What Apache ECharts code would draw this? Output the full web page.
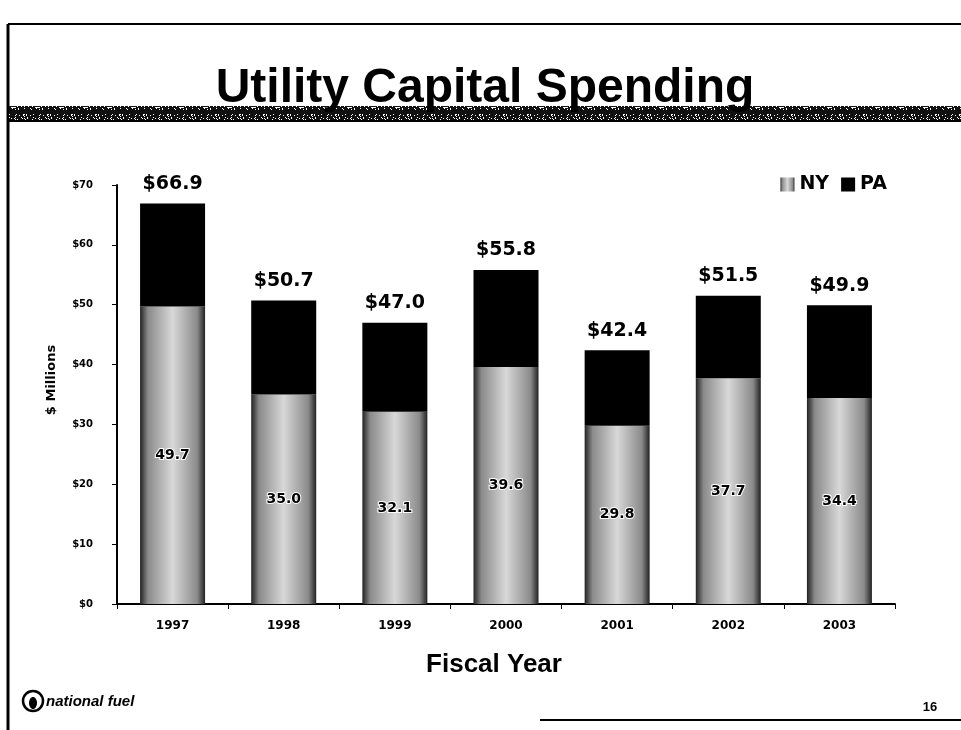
<!DOCTYPE html>
<html>
<head>
<meta charset="utf-8">
<title>Utility Capital Spending</title>
<script src="https://cdn.jsdelivr.net/npm/echarts@6/dist/echarts.min.js"></script>
<style>
  html, body { margin: 0; padding: 0; background: #fff; }
  #chart { width: 961px; height: 730px; }
</style>
</head>
<body>
<div id="chart"></div>
<script>
// fiscal years, $ millions
const years = ['1997', '1998', '1999', '2000', '2001', '2002', '2003']
const nyValues = [49.7, 35.0, 32.1, 39.6, 29.8, 37.7, 34.4]
const paValues = [17.2, 15.7, 14.9, 16.2, 12.6, 13.8, 15.5]
const totals = [66.9, 50.7, 47.0, 55.8, 42.4, 51.5, 49.9]
const yTicks = [0, 10, 20, 30, 40, 50, 60, 70]

const bold = '"DejaVu Sans", sans-serif'
const arial = '"Liberation Sans", Arial, sans-serif'

// speckled band under the title (fixed pattern, no randomness)
const makeBandPattern = () => {
  const c = document.createElement('canvas')
  c.width = 24
  c.height = 14
  const ctx = c.getContext('2d')
  ctx.fillStyle = '#111'
  ctx.fillRect(0, 0, 24, 14)
  ctx.fillStyle = '#fff'
  for (let x = 0; x < 24; x++) {
    for (let y = 2; y < 12; y++) {
      if ((x * 7 + y * 3 + (x * y) % 5) % 6 === 0) ctx.fillRect(x, y, 1, 1)
    }
  }
  return c
}

// NY bars: stippled grey, darker at the edges
const nyFill = new echarts.graphic.LinearGradient(0, 0, 1, 0, [
  { offset: 0, color: '#222' },
  { offset: 0.12, color: '#8a8a8a' },
  { offset: 0.5, color: '#d8d8d8' },
  { offset: 0.88, color: '#8a8a8a' },
  { offset: 1, color: '#222' },
])

const chart = echarts.init(document.getElementById('chart'))
chart.setOption({
  animation: false,
  backgroundColor: '#fff',
  grid: { left: 117, right: 66, top: 185, bottom: 126 },
  legend: {
    data: ['NY', 'PA'],
    right: 69,
    top: 170,
    itemWidth: 14,
    itemHeight: 14,
    itemGap: 12,
    icon: 'rect',
    textStyle: { color: '#000', fontSize: 19, fontWeight: 'bold', fontFamily: bold },
  },
  xAxis: {
    type: 'category',
    data: years,
    axisLine: { lineStyle: { color: '#000', width: 2 } },
    axisTick: { show: true, length: 5, lineStyle: { color: '#000' } },
    axisLabel: { color: '#000', fontSize: 12, fontWeight: 'bold', fontFamily: bold, margin: 16 },
  },
  yAxis: {
    type: 'value',
    min: yTicks[0],
    max: yTicks[yTicks.length - 1],
    interval: yTicks[1] - yTicks[0],
    axisLine: { show: true, lineStyle: { color: '#000', width: 2 } },
    axisTick: { show: true, length: 5, lineStyle: { color: '#000' } },
    splitLine: { show: false },
    axisLabel: {
      color: '#000', fontSize: 10, fontWeight: 'bold', fontFamily: bold, margin: 24,
      formatter: v => '$' + v,
    },
  },
  series: [
    {
      name: 'NY',
      type: 'bar',
      stack: 'total',
      barWidth: 65,
      itemStyle: { color: nyFill },
      label: {
        show: true,
        position: 'inside',
        formatter: p => p.value.toFixed(1),
        color: '#000',
        fontSize: 14,
        fontWeight: 'bold',
        fontFamily: bold,
        textBorderColor: '#fff',
        textBorderWidth: 2,
      },
      data: nyValues,
    },
    {
      name: 'PA',
      type: 'bar',
      stack: 'total',
      barWidth: 65,
      itemStyle: { color: '#000' },
      label: {
        show: true,
        position: 'top',
        distance: 10,
        formatter: p => '$' + totals[p.dataIndex].toFixed(1),
        color: '#000',
        fontSize: 19,
        fontWeight: 'bold',
        fontFamily: bold,
      },
      data: paValues,
    },
  ],
  graphic: [
    // slide frame
    { type: 'line', shape: { x1: 8, y1: 24, x2: 961, y2: 24 }, style: { stroke: '#000', lineWidth: 2 } },
    { type: 'line', shape: { x1: 8, y1: 24, x2: 8, y2: 730 }, style: { stroke: '#000', lineWidth: 3 } },
    { type: 'line', shape: { x1: 540, y1: 720, x2: 961, y2: 720 }, style: { stroke: '#000', lineWidth: 2 } },
    // title + band
    {
      type: 'rect',
      shape: { x: 9, y: 106, width: 952, height: 14 },
      style: { fill: { image: makeBandPattern(), repeat: 'repeat' } },
    },
    { type: 'line', shape: { x1: 9, y1: 121, x2: 961, y2: 121 }, style: { stroke: '#000', lineWidth: 2 } },
    {
      type: 'text',
      style: {
        text: 'Utility Capital Spending', x: 485, y: 89,
        align: 'center', verticalAlign: 'middle',
        font: 'bold 48px ' + arial, fill: '#000',
      },
    },
    // axis titles
    {
      type: 'text',
      x: 52, y: 380, rotation: Math.PI / 2,
      style: {
        text: '$ Millions', x: 0, y: 0,
        align: 'center', verticalAlign: 'middle',
        font: 'bold 13px ' + bold, fill: '#000',
      },
    },
    {
      type: 'text',
      style: {
        text: 'Fiscal Year', x: 494, y: 665,
        align: 'center', verticalAlign: 'middle',
        font: 'bold 26px ' + arial, fill: '#000',
      },
    },
    // footer
    { type: 'circle', shape: { cx: 33, cy: 701, r: 10 }, style: { fill: '#fff', stroke: '#000', lineWidth: 2.5 } },
    { type: 'ellipse', shape: { cx: 33, cy: 703, rx: 4, ry: 6 }, style: { fill: '#000' } },
    {
      type: 'text',
      style: {
        text: 'national fuel', x: 46, y: 702,
        align: 'left', verticalAlign: 'middle',
        font: 'italic bold 15px ' + arial, fill: '#000',
      },
    },
    {
      type: 'text',
      style: {
        text: '16', x: 930, y: 707,
        align: 'center', verticalAlign: 'middle',
        font: 'bold 13px ' + arial, fill: '#000',
      },
    },
  ],
})
</script>
</body>
</html>
